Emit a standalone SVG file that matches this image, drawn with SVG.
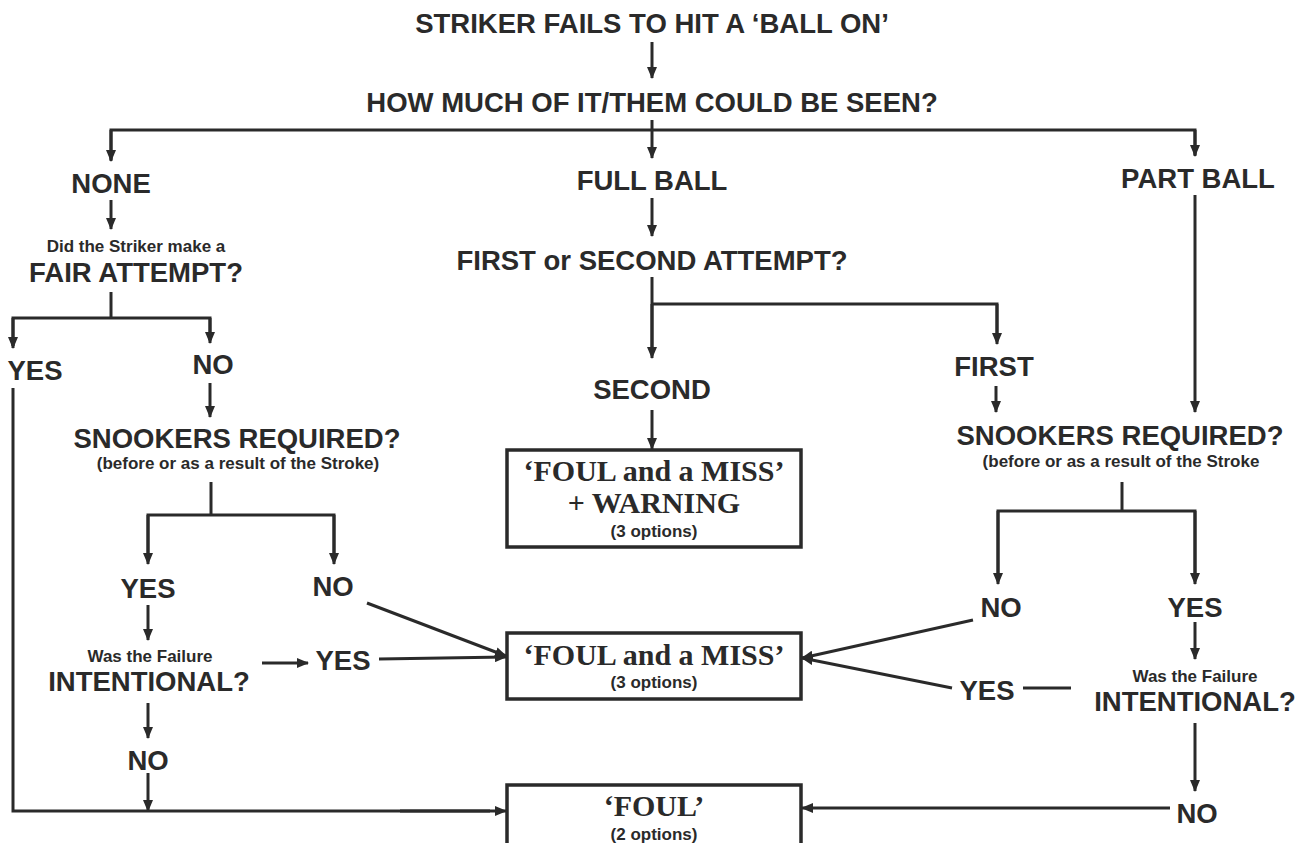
<svg xmlns="http://www.w3.org/2000/svg" width="1303" height="843" viewBox="0 0 1303 843">
<defs>
<style>
.t{font-family:"Liberation Sans",Arial,sans-serif;font-weight:bold;fill:#2a2a2a;text-anchor:middle}
.L{font-size:27.5px}
.S{font-size:17px}
.C{font-family:"Liberation Serif","DejaVu Serif",serif;font-weight:bold;font-size:30px;fill:#2a2a2a;text-anchor:middle}
.ln{stroke:#2a2a2a;stroke-width:3;fill:none}
.ar{stroke:#2a2a2a;stroke-width:3;fill:none;marker-end:url(#ah)}
.box{fill:#fff;stroke:#2a2a2a;stroke-width:3.5}
</style>
<marker id="ah" viewBox="0 0 12 10" refX="11" refY="5" markerWidth="12" markerHeight="10" markerUnits="userSpaceOnUse" orient="auto">
<path d="M0,0 L12,5 L0,10 z" fill="#2a2a2a"/>
</marker>
</defs>
<rect width="1303" height="843" fill="#fff"/>
<g id="connectors">
<line class="ar" x1="652" y1="42" x2="652" y2="78"/>
<polyline class="ln" points="111,160 111,130 1195,130 1195,155"/>
<line class="ar" x1="111" y1="130" x2="111" y2="161"/>
<line class="ar" x1="1195" y1="130" x2="1195" y2="156"/>
<line class="ar" x1="652" y1="120" x2="652" y2="158"/>
<line class="ar" x1="111" y1="200" x2="111" y2="229"/>
<line class="ln" x1="111" y1="292" x2="111" y2="318"/>
<polyline class="ln" points="13,346 13,318 210,318 210,340"/>
<line class="ar" x1="13" y1="318" x2="13" y2="348"/>
<line class="ar" x1="210" y1="318" x2="210" y2="343"/>
<line class="ar" x1="210" y1="383" x2="210" y2="417"/>
<line class="ln" x1="211" y1="482" x2="211" y2="515"/>
<polyline class="ln" points="148,560 148,515 334,515 334,560"/>
<line class="ar" x1="148" y1="515" x2="148" y2="564"/>
<line class="ar" x1="334" y1="515" x2="334" y2="564"/>
<line class="ar" x1="148" y1="605" x2="148" y2="640"/>
<line class="ar" x1="148" y1="703" x2="148" y2="738"/>
<line class="ar" x1="148" y1="773" x2="148" y2="811"/>
<line class="ar" x1="262" y1="663" x2="308" y2="663"/>
<polyline class="ln" points="13,388 13,811 490,811"/>
<line class="ar" x1="400" y1="811" x2="506" y2="811"/>
<line class="ar" x1="379" y1="659" x2="506" y2="657"/>
<line class="ar" x1="367" y1="603" x2="506" y2="656"/>
<line class="ar" x1="652" y1="198" x2="652" y2="236"/>
<line class="ln" x1="652" y1="277" x2="652" y2="350"/>
<polyline class="ln" points="652,304 997,304 997,340"/>
<line class="ar" x1="997" y1="304" x2="997" y2="344"/>
<line class="ar" x1="652" y1="304" x2="652" y2="358"/>
<line class="ar" x1="652" y1="410" x2="652" y2="449"/>
<line class="ar" x1="996" y1="386" x2="996" y2="412"/>
<line class="ar" x1="1195" y1="195" x2="1195" y2="412"/>
<line class="ln" x1="1122" y1="482" x2="1122" y2="511"/>
<polyline class="ln" points="998,580 998,511 1195,511 1195,580"/>
<line class="ar" x1="998" y1="511" x2="998" y2="584"/>
<line class="ar" x1="1195" y1="511" x2="1195" y2="584"/>
<line class="ar" x1="1195" y1="622" x2="1195" y2="659"/>
<line class="ln" x1="1023" y1="688" x2="1071" y2="688"/>
<line class="ar" x1="952" y1="688" x2="802" y2="658"/>
<line class="ar" x1="973" y1="620" x2="802" y2="658"/>
<line class="ar" x1="1195" y1="723" x2="1195" y2="791"/>
<line class="ar" x1="1170" y1="808" x2="802" y2="808"/>
</g>
<g id="n-title"><text class="t L" x="652" y="33">STRIKER FAILS TO HIT A ‘BALL ON’</text></g>
<g id="n-how"><text class="t L" x="652" y="112">HOW MUCH OF IT/THEM COULD BE SEEN?</text></g>
<g id="n-none"><text class="t L" x="111" y="193">NONE</text></g>
<g id="n-full"><text class="t L" x="652" y="190">FULL BALL</text></g>
<g id="n-part"><text class="t L" x="1198" y="188">PART BALL</text></g>
<g id="n-fair"><text class="t S" x="136" y="252">Did the Striker make a</text><text class="t L" x="136" y="282">FAIR ATTEMPT?</text></g>
<g id="n-fair-yes"><text class="t L" x="35" y="380">YES</text></g>
<g id="n-fair-no"><text class="t L" x="213" y="374">NO</text></g>
<g id="n-snook-l"><text class="t L" x="237" y="448">SNOOKERS REQUIRED?</text><text class="t S" x="238" y="469">(before or as a result of the Stroke)</text></g>
<g id="n-snook-l-yes"><text class="t L" x="148" y="598">YES</text></g>
<g id="n-snook-l-no"><text class="t L" x="333" y="596">NO</text></g>
<g id="n-int-l"><text class="t S" x="150" y="662">Was the Failure</text><text class="t L" x="149" y="691">INTENTIONAL?</text></g>
<g id="n-int-l-yes"><text class="t L" x="343" y="670">YES</text></g>
<g id="n-int-l-no"><text class="t L" x="148" y="770">NO</text></g>
<g id="n-attempt"><text class="t L" x="652" y="270">FIRST or SECOND ATTEMPT?</text></g>
<g id="n-second"><text class="t L" x="652" y="399">SECOND</text></g>
<g id="n-first"><text class="t L" x="994" y="376">FIRST</text></g>
<g id="n-warning"><rect class="box" x="507" y="450" width="294" height="97"/><text class="C" x="654" y="481">‘FOUL and a MISS’</text><text class="C" x="654" y="513">+ WARNING</text><text class="t S" x="654" y="537">(3 options)</text></g>
<g id="n-snook-r"><text class="t L" x="1120" y="445">SNOOKERS REQUIRED?</text><text class="t S" x="1121" y="467">(before or as a result of the Stroke</text></g>
<g id="n-snook-r-no"><text class="t L" x="1001" y="617">NO</text></g>
<g id="n-snook-r-yes"><text class="t L" x="1195" y="617">YES</text></g>
<g id="n-int-r"><text class="t S" x="1195" y="682">Was the Failure</text><text class="t L" x="1195" y="711">INTENTIONAL?</text></g>
<g id="n-int-r-yes"><text class="t L" x="987" y="700">YES</text></g>
<g id="n-int-r-no"><text class="t L" x="1197" y="823">NO</text></g>
<g id="n-miss"><rect class="box" x="507" y="633" width="294" height="66"/><text class="C" x="654" y="665">‘FOUL and a MISS’</text><text class="t S" x="654" y="688">(3 options)</text></g>
<g id="n-foul"><rect class="box" x="507" y="785" width="294" height="75"/><text class="C" x="654" y="816">‘FOUL’</text><text class="t S" x="654" y="840">(2 options)</text></g>
</svg>
